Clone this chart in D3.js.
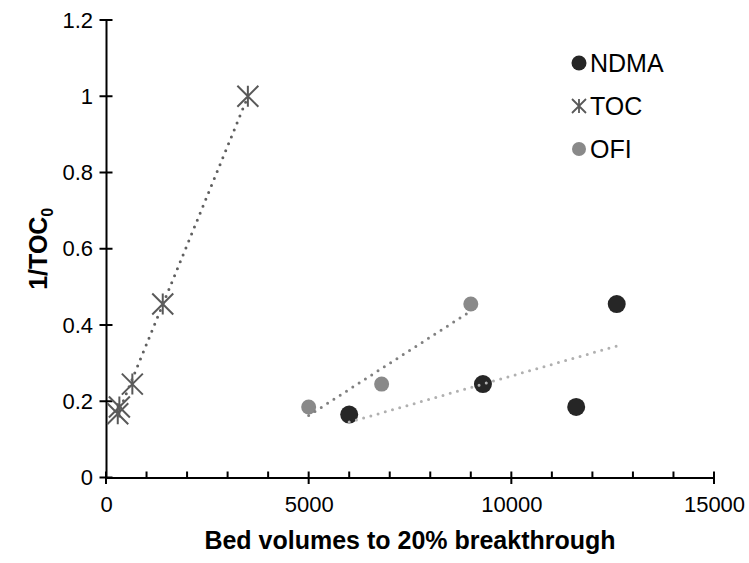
<!DOCTYPE html>
<html>
<head>
<meta charset="utf-8">
<script src="https://cdn.jsdelivr.net/npm/d3@7"></script>
<style>
  html, body { margin: 0; padding: 0; background: #fff; }
  svg { display: block; font-family: "Liberation Sans", Arial, sans-serif; }
</style>
</head>
<body>
<svg id="chart" width="749" height="563"></svg>
<script>
// Bed volumes to 20% breakthrough vs. 1/TOC0
const ndmaX = [6000, 9300, 11600, 12600];
const ndmaY = [0.165, 0.245, 0.185, 0.455];
const tocX = [290, 330, 650, 1400, 3500];
const tocY = [0.167, 0.185, 0.245, 0.455, 1.0];
const ofiX = [5000, 6800, 9000];
const ofiY = [0.185, 0.245, 0.455];

const xTicks = [0, 5000, 10000, 15000];
const yTicks = [0, 0.2, 0.4, 0.6, 0.8, 1, 1.2];
const seriesNames = ["NDMA", "TOC", "OFI"];

const svg = d3.select("#chart");
const x = d3.scaleLinear().domain([0, 15000]).range([106, 714]);
const y = d3.scaleLinear().domain([0, 1.2]).range([477.5, 20]);

const cNdma = "#262626", cToc = "#595959", cOfi = "#898989";
const cNdmaTrend = "#b0b0b0", cTocTrend = "#5f5f5f", cOfiTrend = "#808080";

// least-squares line over a series, spanning its x range
function fit(xs, ys) {
  const n = xs.length, mx = d3.mean(xs), my = d3.mean(ys);
  let sxy = 0, sxx = 0;
  for (let i = 0; i < n; i++) { sxy += (xs[i] - mx) * (ys[i] - my); sxx += (xs[i] - mx) ** 2; }
  const b = sxy / sxx, a = my - b * mx;
  const x0 = d3.min(xs), x1 = d3.max(xs);
  return [[x0, a + b * x0], [x1, a + b * x1]];
}

// axes
const xAxis = d3.axisBottom(x).tickValues(xTicks).tickSize(0).tickPadding(19)
  .tickFormat(d3.format("d"));
const gx = svg.append("g").attr("transform", "translate(0,477.5)").call(xAxis);
gx.select(".domain").attr("stroke", "#000").attr("stroke-width", 2);
gx.selectAll(".tick text").attr("font-size", 22).attr("fill", "#000");

const yAxis = d3.axisLeft(y).tickValues(yTicks).tickSize(0).tickPadding(13)
  .tickFormat(d => String(+d.toFixed(1)));
const gy = svg.append("g").attr("transform", "translate(106,0)").call(yAxis);
gy.select(".domain").attr("stroke", "#000").attr("stroke-width", 2);
gy.selectAll(".tick text").attr("font-size", 22).attr("fill", "#000");

// crossing major ticks and inner minor ticks
svg.append("g").selectAll("line.xmaj").data(xTicks).join("line")
  .attr("x1", d => x(d)).attr("x2", d => x(d))
  .attr("y1", 471.5).attr("y2", 484).attr("stroke", "#000").attr("stroke-width", 2);
svg.append("g").selectAll("line.xmin").data(d3.range(1000, 15000, 1000).filter(v => v % 5000)).join("line")
  .attr("x1", d => x(d)).attr("x2", d => x(d))
  .attr("y1", 471.5).attr("y2", 477.5).attr("stroke", "#000").attr("stroke-width", 2);
svg.append("g").selectAll("line.ymaj").data(yTicks).join("line")
  .attr("x1", 99.5).attr("x2", 112.5)
  .attr("y1", d => y(d)).attr("y2", d => y(d)).attr("stroke", "#000").attr("stroke-width", 2);

// axis titles
svg.append("text").attr("x", x(7500)).attr("y", 549).attr("text-anchor", "middle")
  .attr("font-size", 25).attr("font-weight", "bold").text("Bed volumes to 20% breakthrough");
const yt = svg.append("text").attr("transform", "translate(47," + y(0.6) + ") rotate(-90)")
  .attr("text-anchor", "middle").attr("font-size", 25).attr("font-weight", "bold");
yt.append("tspan").text("1/TOC");
yt.append("tspan").attr("font-size", 16).attr("dy", 6).text("0");

// markers
const starPath = r => `M${-r},${-r}L${r},${r}M${-r},${r}L${r},${-r}M0,${-r}L0,${r}`;

svg.append("g").selectAll("circle").data(d3.zip(ndmaX, ndmaY)).join("circle")
  .attr("cx", d => x(d[0])).attr("cy", d => y(d[1])).attr("r", 9).attr("fill", cNdma);
svg.append("g").selectAll("path").data(d3.zip(tocX, tocY)).join("path")
  .attr("transform", d => `translate(${x(d[0])},${y(d[1])})`)
  .attr("d", starPath(10.5)).attr("stroke", cToc).attr("stroke-width", 2).attr("fill", "none");
svg.append("g").selectAll("circle").data(d3.zip(ofiX, ofiY)).join("circle")
  .attr("cx", d => x(d[0])).attr("cy", d => y(d[1])).attr("r", 7.5).attr("fill", cOfi);

// dotted linear trendlines
const line = d3.line().x(d => x(d[0])).y(d => y(d[1]));
[[ndmaX, ndmaY, cNdmaTrend], [tocX, tocY, cTocTrend], [ofiX, ofiY, cOfiTrend]].forEach(([xs, ys, c]) => {
  svg.append("path").attr("d", line(fit(xs, ys))).attr("fill", "none")
    .attr("stroke", c).attr("stroke-width", 3).attr("stroke-linecap", "round")
    .attr("stroke-dasharray", "0 7.5");
});

// legend
const lg = svg.append("g");
const legY = [63, 106, 149];
lg.append("circle").attr("cx", 579).attr("cy", legY[0]).attr("r", 7.5).attr("fill", cNdma);
lg.append("path").attr("transform", `translate(579,${legY[1]})`).attr("d", starPath(7))
  .attr("stroke", cToc).attr("stroke-width", 1.8).attr("fill", "none");
lg.append("circle").attr("cx", 579).attr("cy", legY[2]).attr("r", 7).attr("fill", cOfi);
lg.selectAll("text").data(seriesNames).join("text")
  .attr("x", 590).attr("y", (d, i) => legY[i] + 9).attr("font-size", 25).attr("fill", "#000")
  .text(d => d);
</script>
</body>
</html>
